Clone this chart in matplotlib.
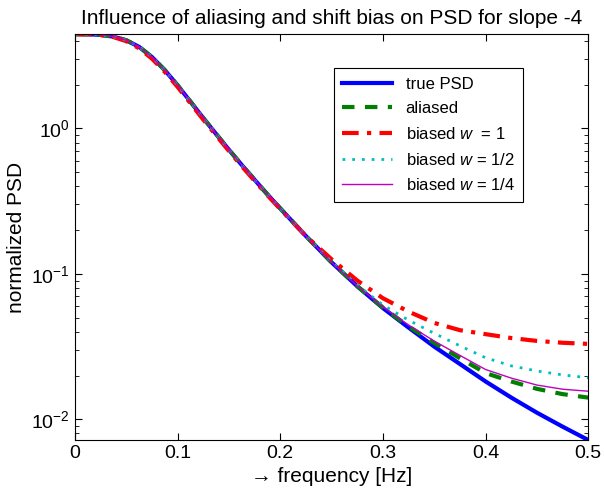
import numpy as np
import matplotlib
matplotlib.use('Agg')
import matplotlib.pyplot as plt

plt.rcParams['font.family'] = ['Liberation Sans', 'DejaVu Sans']
plt.rcParams['mathtext.fontset'] = 'custom'
plt.rcParams['mathtext.rm'] = 'Liberation Sans'
plt.rcParams['mathtext.it'] = 'Liberation Sans:italic'

# === data ===
freq = [0.0, 0.0125, 0.025, 0.0375, 0.05, 0.0625, 0.075, 0.0875, 0.1, 0.1125,
        0.125, 0.1375, 0.15, 0.1625, 0.175, 0.1875, 0.2, 0.225, 0.25, 0.275,
        0.3, 0.325, 0.35, 0.375, 0.4, 0.425, 0.45, 0.475, 0.5]

psd_true = [4.45, 4.44, 4.40, 4.28, 4.04, 3.64, 3.10, 2.52, 1.98, 1.53,
            1.18, 0.916, 0.714, 0.561, 0.444, 0.352, 0.282, 0.182, 0.120, 0.0822,
            0.0582, 0.0427, 0.0316, 0.024, 0.0182, 0.0141, 0.0111, 0.0089, 0.0072]
psd_aliased = [4.45, 4.44, 4.40, 4.28, 4.04, 3.64, 3.10, 2.52, 1.98, 1.53,
               1.18, 0.916, 0.714, 0.561, 0.444, 0.352, 0.282, 0.182, 0.120, 0.0822,
               0.0587, 0.0435, 0.0335, 0.0263, 0.0208, 0.0182, 0.0162, 0.0149, 0.0141]
psd_w1 = [4.45, 4.44, 4.39, 4.25, 3.98, 3.56, 3.02, 2.45, 1.93, 1.49,
          1.15, 0.895, 0.70, 0.55, 0.436, 0.347, 0.279, 0.182, 0.126, 0.090,
          0.068, 0.055, 0.046, 0.041, 0.0385, 0.0362, 0.0346, 0.0336, 0.0330]
psd_w2 = [4.45, 4.44, 4.40, 4.28, 4.04, 3.64, 3.10, 2.52, 1.98, 1.53,
          1.18, 0.916, 0.714, 0.561, 0.444, 0.352, 0.282, 0.182, 0.121, 0.084,
          0.061, 0.048, 0.039, 0.032, 0.0265, 0.0233, 0.0215, 0.0202, 0.0193]
psd_w4 = [4.45, 4.44, 4.40, 4.28, 4.04, 3.64, 3.10, 2.52, 1.98, 1.53,
          1.18, 0.916, 0.714, 0.561, 0.444, 0.352, 0.282, 0.182, 0.120, 0.0826,
          0.0592, 0.0445, 0.0345, 0.0275, 0.022, 0.0192, 0.0172, 0.0161, 0.0156]

fig = plt.figure(figsize=(6.04, 4.95), dpi=100)
ax = fig.add_axes([0.124, 0.111, 0.850, 0.820])

ax.semilogy(freq, psd_true, color='#0000ff', lw=3, label='true PSD')
ax.semilogy(freq, psd_aliased, color='#008000', lw=3, ls=(0, (3, 2.5)), label='aliased')
ax.semilogy(freq, psd_w1, color='#ff0000', lw=3, ls=(0, (4, 2, 1, 2)), label='biased $w$  = 1')
ax.semilogy(freq, psd_w2, color='#00bfbf', lw=2, ls=(0, (1, 2.5)), label='biased $w$ = 1/2')
ax.semilogy(freq, psd_w4, color='#bf00bf', lw=1, label='biased $w$ = 1/4')

ax.set_xlim(0, 0.5)
ax.set_ylim(min(psd_true), max(psd_true))
ax.set_xticks([0, 0.1, 0.2, 0.3, 0.4, 0.5])
ax.set_xticklabels(['0', '0.1', '0.2', '0.3', '0.4', '0.5'])
ax.tick_params(which='both', direction='in', top=True, right=True, labelsize=14)
ax.tick_params(which='major', length=5)
ax.tick_params(which='minor', length=3)

ax.set_title('Influence of aliasing and shift bias on PSD for slope -4', fontsize=15, pad=7)
ax.set_xlabel('\u2192 frequency [Hz]', fontsize=15)
ax.set_ylabel('normalized PSD', fontsize=15)

leg = ax.legend(loc='upper right', bbox_to_anchor=(0.873, 0.916), fontsize=12,
                fancybox=False, framealpha=1, edgecolor='black', handlelength=3.0,
                borderaxespad=0, labelspacing=0.58, borderpad=0.5)
leg.get_frame().set_linewidth(0.8)

plt.savefig('out.png', dpi=100)
